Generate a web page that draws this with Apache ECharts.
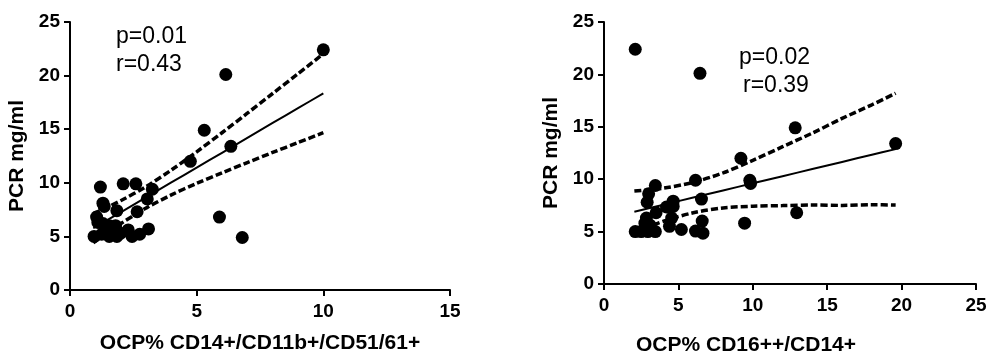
<!DOCTYPE html>
<html><head><meta charset="utf-8">
<script src="https://cdn.jsdelivr.net/npm/echarts@6/dist/echarts.min.js"></script>
<style>html,body{margin:0;padding:0;background:#fff}#c{width:989px;height:353px}</style>
</head><body><div id="c"></div>
<script>
// ---- Left panel data (OCP% CD14+/CD11b+/CD51/61+ vs PCR) ----
var leftX = [10.0, 6.15, 5.3, 6.35, 4.75, 5.9, 6.8, 1.2, 2.1, 2.6, 3.25, 3.05, 1.3, 1.35, 1.85, 2.65, 1.05, 1.1, 1.3, 1.55, 1.8, 1.4, 1.7, 2.3, 3.1, 2.75, 2.45, 1.85, 1.55, 0.95, 1.25, 2.0];
var leftY = [22.4, 20.1, 14.9, 13.4, 12.0, 6.8, 4.9, 9.6, 9.9, 9.9, 9.4, 8.5, 8.1, 7.8, 7.4, 7.3, 6.8, 6.3, 6.2, 6.0, 6.0, 5.6, 5.5, 5.6, 5.7, 5.2, 5.0, 5.0, 5.0, 5.0, 5.2, 5.3];
var leftBandX = [0.92, 2, 3, 4, 5, 6, 7, 8, 9, 10];
var leftFit   = [5.76, 7.25, 8.64, 10.03, 11.42, 12.80, 14.19, 15.58, 16.96, 18.35];
var leftUpper = [7.12, 8.33, 9.65, 11.19, 12.89, 14.67, 16.49, 18.33, 20.17, 22.03];
var leftLower = [4.40, 6.18, 7.64, 8.87, 9.95, 10.93, 11.89, 12.83, 13.75, 14.67];

// ---- Right panel data (OCP% CD16++/CD14+ vs PCR) ----
var rightX = [2.1, 6.45, 12.85, 19.6, 9.2, 9.8, 9.85, 6.15, 3.45, 3.0, 2.9, 6.55, 4.65, 4.65, 4.2, 3.5, 12.95, 6.6, 9.45, 4.55, 4.4, 5.2, 6.15, 6.65, 2.1, 2.5, 2.95, 3.45, 2.85, 2.75, 3.1];
var rightY = [22.4, 20.1, 14.9, 13.4, 12.0, 9.9, 9.6, 9.9, 9.4, 8.6, 7.8, 8.1, 7.9, 7.4, 7.35, 6.8, 6.8, 6.0, 5.8, 6.3, 5.5, 5.2, 5.05, 4.85, 5.0, 5.0, 5.0, 5.0, 6.3, 5.8, 5.6];
var rightBandX = [2.04, 4, 6, 8, 10, 12, 14, 16, 18, 19.6];
var rightFit   = [6.9, 7.57, 8.25, 8.93, 9.61, 10.29, 10.97, 11.65, 12.33, 12.87];
var rightUpper = [8.87, 9.15, 9.7, 10.6, 11.8, 13.1, 14.4, 15.8, 17.1, 18.2];
var rightLower = [4.93, 5.99, 6.8, 7.26, 7.42, 7.48, 7.54, 7.5, 7.56, 7.54];

// ---- Axis ticks / labels ----
var yTicks = {min: 0, max: 25, interval: 5};
var leftXTicks = {min: 0, max: 15, interval: 5};
var rightXTicks = {min: 0, max: 25, interval: 5};
var yName = 'PCR mg/ml';
var leftXName = 'OCP% CD14+/CD11b+/CD51/61+';
var rightXName = 'OCP% CD16++/CD14+';
var leftStats = ['p=0.01', 'r=0.43'];
var rightStats = ['p=0.02', 'r=0.39'];

function zip(a, b) { return a.map(function (v, i) { return [v, b[i]]; }); }

var FONT = 'Liberation Sans, Arial, Helvetica, sans-serif';
function xAxis(grid, t, name, gap, pad) {
  return {
    type: 'value', gridIndex: grid, min: t.min, max: t.max, interval: t.interval,
    name: name, nameLocation: 'middle', nameGap: gap,
    nameTextStyle: {color: '#000', fontWeight: 'bold', fontSize: 21, fontFamily: FONT, padding: pad},
    axisLine: {lineStyle: {color: '#000', width: 2}},
    axisTick: {length: 6, lineStyle: {color: '#000', width: 2}},
    axisLabel: {color: '#000', fontWeight: 'bold', fontSize: 19, fontFamily: FONT, margin: 12},
    splitLine: {show: false}
  };
}
function yAxis(grid, gap) {
  return {
    type: 'value', gridIndex: grid, min: yTicks.min, max: yTicks.max, interval: yTicks.interval,
    name: yName, nameLocation: 'middle', nameGap: gap, nameRotate: 90,
    nameTextStyle: {color: '#000', fontWeight: 'bold', fontSize: 21, fontFamily: FONT},
    axisLine: {show: true, lineStyle: {color: '#000', width: 2}},
    axisTick: {show: true, length: 6, lineStyle: {color: '#000', width: 2}},
    axisLabel: {color: '#000', fontWeight: 'bold', fontSize: 19, fontFamily: FONT, margin: 10},
    splitLine: {show: false}
  };
}
function lineSeries(ax, xs, ys, dashed) {
  return {
    type: 'line', xAxisIndex: ax, yAxisIndex: ax, data: zip(xs, ys), symbol: 'none', smooth: 0.3,
    silent: true, z: 2,
    lineStyle: {color: '#000', width: dashed ? 3.5 : 2, type: dashed ? [7, 3] : 'solid'}
  };
}
function scatter(ax, xs, ys) {
  return {
    type: 'scatter', xAxisIndex: ax, yAxisIndex: ax, data: zip(xs, ys), symbol: 'circle',
    symbolSize: 13, itemStyle: {color: '#000', opacity: 1}, z: 3
  };
}

var chart = echarts.init(document.getElementById('c'), null, {renderer: 'canvas'});
chart.setOption({
  animation: false,
  backgroundColor: '#fff',
  grid: [
    {left: 70, top: 22, width: 380, height: 268, containLabel: false, outerBoundsMode: 'none'},
    {left: 604, top: 22, width: 372, height: 262, containLabel: false, outerBoundsMode: 'none'}
  ],
  xAxis: [xAxis(0, leftXTicks, leftXName, 43, 0), xAxis(1, rightXTicks, rightXName, 51, [0, 88, 0, 0])],
  yAxis: [yAxis(0, 42), yAxis(1, 42)],
  series: [
    lineSeries(0, leftBandX, leftUpper, true),
    lineSeries(0, leftBandX, leftLower, true),
    lineSeries(0, leftBandX, leftFit, false),
    scatter(0, leftX, leftY),
    lineSeries(1, rightBandX, rightUpper, true),
    lineSeries(1, rightBandX, rightLower, true),
    lineSeries(1, rightBandX, rightFit, false),
    scatter(1, rightX, rightY)
  ],
  graphic: [
    {type: 'text', left: 116, top: 25, style: {text: leftStats[0], font: '23px ' + FONT, fill: '#000'}},
    {type: 'text', left: 116, top: 53, style: {text: leftStats[1], font: '23px ' + FONT, fill: '#000'}},
    {type: 'text', left: 739, top: 46, style: {text: rightStats[0], font: '23px ' + FONT, fill: '#000'}},
    {type: 'text', left: 743, top: 74, style: {text: rightStats[1], font: '23px ' + FONT, fill: '#000'}}
  ]
});
</script></body></html>
